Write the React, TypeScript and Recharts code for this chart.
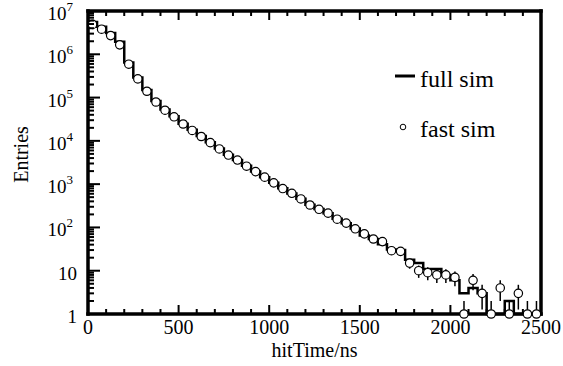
import { ComposedChart, ErrorBar, Legend, Line, Scatter, XAxis, YAxis } from "recharts";

// 50 ns bins from 0 to 2500 ns
const BIN_WIDTH = 50;
const X_MAX = 2500;

const FULL_SIM = [
  5.6e6, 4.3e6, 3.1e6, 1.95e6, 6.5e5, 2.9e5, 1.5e5, 8.3e4, 5.3e4, 3.7e4,
  2.5e4, 1.8e4, 1.3e4, 9.3e3, 6.7e3, 4.8e3, 3.6e3, 2.65e3, 1.95e3, 1.45e3,
  1080, 800, 610, 460, 335, 265, 212, 158, 125, 95,
  65, 54, 41, 31, 30, 18, 15, 11, 11, 8,
  6, 3, 4, 3, 1, 1, 2, 1, 1, 1,
];

const FAST_SIM = [
  4.9e6, 3.8e6, 2.7e6, 1.65e6, 5.9e5, 2.7e5, 1.4e5, 7.9e4, 5.1e4, 3.6e4,
  2.45e4, 1.74e4, 1.26e4, 9.1e3, 6.5e3, 4.7e3, 3.6e3, 2.6e3, 1.95e3, 1.45e3,
  1070, 790, 615, 455, 330, 262, 214, 155, 126, 93,
  71, 54, 47, 29, 28, 15, 10, 9, 8, 8,
  7, 1, 6, 3, 1, 4, 1, 3, 1, 1,
];

const X_LABELS = [0, 500, 1000, 1500, 2000, 2500];
const X_MINOR_STEP = 100;
const Y_DECADES = [1, 10, 1e2, 1e3, 1e4, 1e5, 1e6, 1e7];

const FONT = "'Liberation Serif', 'Times New Roman', serif";
const txt = { fontFamily: FONT, fill: "#000" };

// histogram outline: low edges + closing edge at X_MAX
const fullData = [
  ...FULL_SIM.map((v, i) => ({ x: i * BIN_WIDTH, y: v })),
  { x: X_MAX, y: FULL_SIM[FULL_SIM.length - 1] },
];

// points at bin centres with sqrt(N) errors (lower end kept inside the axis range)
const fastData = FAST_SIM.map((v, i) => ({
  x: i * BIN_WIDTH + BIN_WIDTH / 2,
  y: v,
  err: [Math.min(Math.sqrt(v), v - 1), Math.sqrt(v)],
}));

const xTicks: number[] = [];
for (let t = 0; t <= X_MAX; t += X_MINOR_STEP) xTicks.push(t);

const yTicks: number[] = [];
Y_DECADES.forEach((d, i) => {
  yTicks.push(d);
  if (i < Y_DECADES.length - 1) for (let m = 2; m <= 9; m++) yTicks.push(d * m);
});

const isDecade = (v: number) => Y_DECADES.some((d) => Math.abs(v - d) < d * 1e-6);

function LeftTick({ x, y, payload }: any) {
  const v = payload.value;
  const major = isDecade(v);
  const k = Math.round(Math.log10(v));
  return (
    <g>
      <line x1={x} x2={x + (major ? 12 : 6)} y1={y} y2={y} stroke="#000" strokeWidth={2} />
      {major && (
        <text x={k >= 2 ? x - 15 : x - 11} y={y + 9} textAnchor="end" style={{ ...txt, fontSize: 19 }}>
          {k === 0 ? "1" : "10"}
          {k >= 2 && (
            <tspan style={{ fontSize: 13 }} dy={-9}>
              {k}
            </tspan>
          )}
        </text>
      )}
    </g>
  );
}

function RightTick({ x, y, payload }: any) {
  const major = isDecade(payload.value);
  return <line x1={x} x2={x - (major ? 12 : 6)} y1={y} y2={y} stroke="#000" strokeWidth={2} />;
}

function BottomTick({ x, y, payload }: any) {
  const v = payload.value;
  const major = X_LABELS.includes(v);
  return (
    <g>
      <line x1={x} x2={x} y1={y} y2={y - (major ? 9 : 5)} stroke="#000" strokeWidth={2} />
      {major && (
        <text x={x} y={y + 20} textAnchor="middle" style={{ ...txt, fontSize: 20 }}>
          {v}
        </text>
      )}
    </g>
  );
}

function TopTick({ x, y, payload }: any) {
  const major = X_LABELS.includes(payload.value);
  return <line x1={x} x2={x} y1={y} y2={y + (major ? 9 : 5)} stroke="#000" strokeWidth={2} />;
}

function Marker({ cx, cy }: any) {
  return <circle cx={cx} cy={cy} r={4.2} fill="#fff" stroke="#000" strokeWidth={1.2} />;
}

function LegendBox() {
  return (
    <svg width={130} height={90} style={{ display: "block" }}>
      <line x1={5} x2={25} y1={16} y2={16} stroke="#000" strokeWidth={3} />
      <text x={30} y={27} style={{ ...txt, fontSize: 24 }}>
        full sim
      </text>
      <circle cx={13} cy={67} r={2.8} fill="#fff" stroke="#000" strokeWidth={1} />
      <text x={30} y={77} style={{ ...txt, fontSize: 24 }}>
        fast sim
      </text>
    </svg>
  );
}

function XTitle({ viewBox }: any) {
  return (
    <text x={viewBox.x + viewBox.width / 2} y={357} textAnchor="middle" style={{ ...txt, fontSize: 20 }}>
      hitTime/ns
    </text>
  );
}

function YTitle({ viewBox }: any) {
  const cy = viewBox.y + viewBox.height / 2 - 8;
  return (
    <text
      x={21}
      y={cy}
      transform={`rotate(-90 21 ${cy})`}
      textAnchor="middle"
      dominantBaseline="central"
      style={{ ...txt, fontSize: 20 }}
    >
      Entries
    </text>
  );
}

const axisLine = { stroke: "#000", strokeWidth: 3.5, strokeLinecap: "square" as const };

export default function App() {
  return (
    <div style={{ position: "absolute", left: 0, top: 0, background: "#fff" }}>
      <ComposedChart width={563} height={366} data={fullData} margin={{ top: 1, right: 12, bottom: 0, left: 0 }}>
        <XAxis
          xAxisId="b"
          dataKey="x"
          type="number"
          domain={[0, X_MAX]}
          ticks={xTicks}
          interval={0}
          height={52}
          tickSize={0}
          tickMargin={0}
          tickLine={false}
          axisLine={axisLine}
          tick={BottomTick}
          label={XTitle}
        />
        <XAxis
          xAxisId="t"
          orientation="top"
          dataKey="x"
          type="number"
          domain={[0, X_MAX]}
          ticks={xTicks}
          interval={0}
          height={10}
          tickSize={0}
          tickMargin={0}
          tickLine={false}
          axisLine={axisLine}
          tick={TopTick}
        />
        <YAxis
          yAxisId="l"
          scale="log"
          type="number"
          domain={[1, 1e7]}
          ticks={yTicks}
          interval={0}
          width={88}
          tickSize={0}
          tickMargin={0}
          tickLine={false}
          axisLine={axisLine}
          tick={LeftTick}
          label={YTitle}
        />
        <YAxis
          yAxisId="r"
          orientation="right"
          scale="log"
          type="number"
          domain={[1, 1e7]}
          ticks={yTicks}
          interval={0}
          width={10}
          tickSize={0}
          tickMargin={0}
          tickLine={false}
          axisLine={axisLine}
          tick={RightTick}
        />
        <Legend
          layout="horizontal"
          verticalAlign="middle"
          align="center"
          content={LegendBox}
          wrapperStyle={{ position: "absolute", left: 390, top: 60, width: 130, height: 90 }}
        />
        <Scatter
          xAxisId="b"
          yAxisId="l"
          name="fast sim"
          data={fastData}
          dataKey="y"
          shape={Marker}
          isAnimationActive={false}
        >
          <ErrorBar dataKey="err" direction="y" width={0} stroke="#000" strokeWidth={1.5} />
        </Scatter>
        <Line
          xAxisId="b"
          yAxisId="l"
          name="full sim"
          data={fullData}
          dataKey="y"
          type="stepAfter"
          stroke="#000"
          strokeWidth={2.5}
          dot={false}
          activeDot={false}
          isAnimationActive={false}
        />
      </ComposedChart>
    </div>
  );
}
